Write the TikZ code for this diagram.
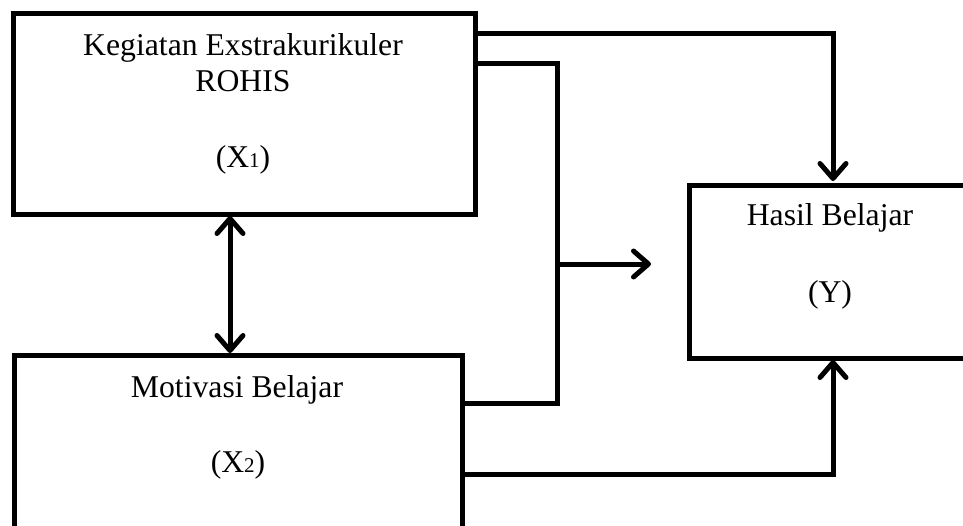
\documentclass[tikz,border=0pt]{standalone}
\usepackage{fontspec}
\setmainfont{Liberation Serif}
\usetikzlibrary{arrows.meta}
\tikzset{
  box/.style={draw=black, line width=5pt, rectangle, inner sep=0pt, outer sep=0pt},
  lbl/.style={anchor=base, inner sep=0pt, font=\fontsize{31.7}{38}\selectfont},
  conn/.style={draw=black, line width=5pt, line join=miter},
  arr/.style={conn, -{Straight Barb[length=15pt,width=26pt,line cap=round,line join=round]}},
  darr/.style={conn, {Straight Barb[length=15pt,width=26pt,line cap=round,line join=round]}-{Straight Barb[length=15pt,width=26pt,line cap=round,line join=round]}}
}
\newcommand{\subsc}[1]{{\fontsize{21}{21}\selectfont #1}}
\begin{document}
\begin{tikzpicture}[x=1pt,y=-1pt]
\useasboundingbox (0,0) rectangle (963,525);
\clip (0,0) rectangle (963,525);
\fill[white] (0,0) rectangle (963,525);

% boxes
\node[box, minimum width=462pt, minimum height=201pt] (x1) at (244,113.5) {};
\node[box, minimum width=448pt, minimum height=220pt] (x2) at (238,465) {};
\node[box, minimum width=288pt, minimum height=173pt] (y) at (833,271.5) {};

% labels
\node[lbl] (t1a) at (243,55) {Kegiatan Exstrakurikuler};
\node[lbl] (t1b) at (243,91) {ROHIS};
\node[lbl] (t1c) at (243,167) {(X\subsc{1})};
\node[lbl] (t2a) at (237,397) {Motivasi Belajar};
\node[lbl] (t2b) at (238,472) {(X\subsc{2})};
\node[lbl] (t3a) at (830,225) {Hasil Belajar};
\node[lbl] (t3b) at (830,302) {(Y)};

% helper coordinates
\coordinate (r1) at (0,33);
\coordinate (jt) at (557,63);
\coordinate (jm) at (557,264);
\coordinate (tip) at (651,264);
\coordinate (jb) at (557,403);
\coordinate (r3) at (0,474);
\coordinate (dx) at (230,0);

% connectors
\draw[arr, shorten >=4pt] (x1.east |- r1) -| (y.north);
\draw[conn] (x1.east |- jt) -- (jt) -- (jb) -- (x2.east |- jb);
\draw[arr] (jm) -- (tip);
\draw[arr, shorten >=2pt] (x2.east |- r3) -| (y.south);
\draw[darr, shorten >=2pt, shorten <=2pt] (x1.south -| dx) -- (x2.north -| dx);
\end{tikzpicture}
\end{document}
